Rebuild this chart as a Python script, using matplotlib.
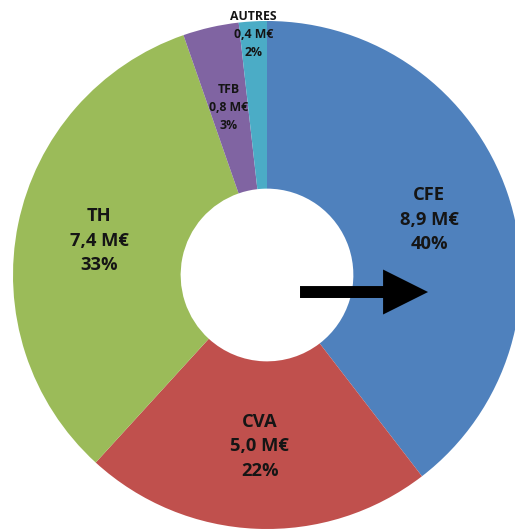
import numpy as np
import matplotlib.pyplot as plt

labels = ["CFE", "CVA", "TH", "TFB", "AUTRES"]
values = [8.9, 5.0, 7.4, 0.8, 0.4]
pcts = [40, 22, 33, 3, 2]
colors = ["#4F81BD", "#C0504D", "#9BBB59", "#8064A2", "#4BACC6"]

W, H = 515, 529
fig = plt.figure(figsize=(W / 100, H / 100), dpi=100)
ax = fig.add_axes([0, 0, 1, 1])

wedges, _ = ax.pie(values, colors=colors, startangle=90, counterclock=False,
                   radius=1.0, wedgeprops=dict(width=0.66, linewidth=0))

# pie centre sits at pixel (267, 275), outer radius 254 px
cx, cy, R = 267, 275, 254
ax.set_xlim(-cx / R, (W - cx) / R)
ax.set_ylim(-(H - cy) / R, cy / R)
ax.set_aspect("equal")
ax.axis("off")

tot = sum(values)
start = 90.0
for lab, v, p, w in zip(labels, values, pcts, wedges):
    span = 360.0 * v / tot
    mid = np.deg2rad(start - span / 2)
    start -= span
    small = p < 5
    r = 0.95 if lab == "AUTRES" else 0.675
    txt = f"{lab}\n{v:.1f} M€\n{p}%".replace(".", ",")
    ax.text(r * np.cos(mid), r * np.sin(mid), txt, ha="center", va="center",
            fontsize=8.8 if small else 13.2, fontweight="bold",
            family="Open Sans", color="#151515",
            linespacing=1.5 if small else 1.45)

# black arrow from the hole to the right
ax.arrow(0.13, -0.067, 0.327, 0, width=0.047, head_width=0.177,
         head_length=0.177, length_includes_head=False, color="black", lw=0)

fig.savefig("out.png", dpi=100)
